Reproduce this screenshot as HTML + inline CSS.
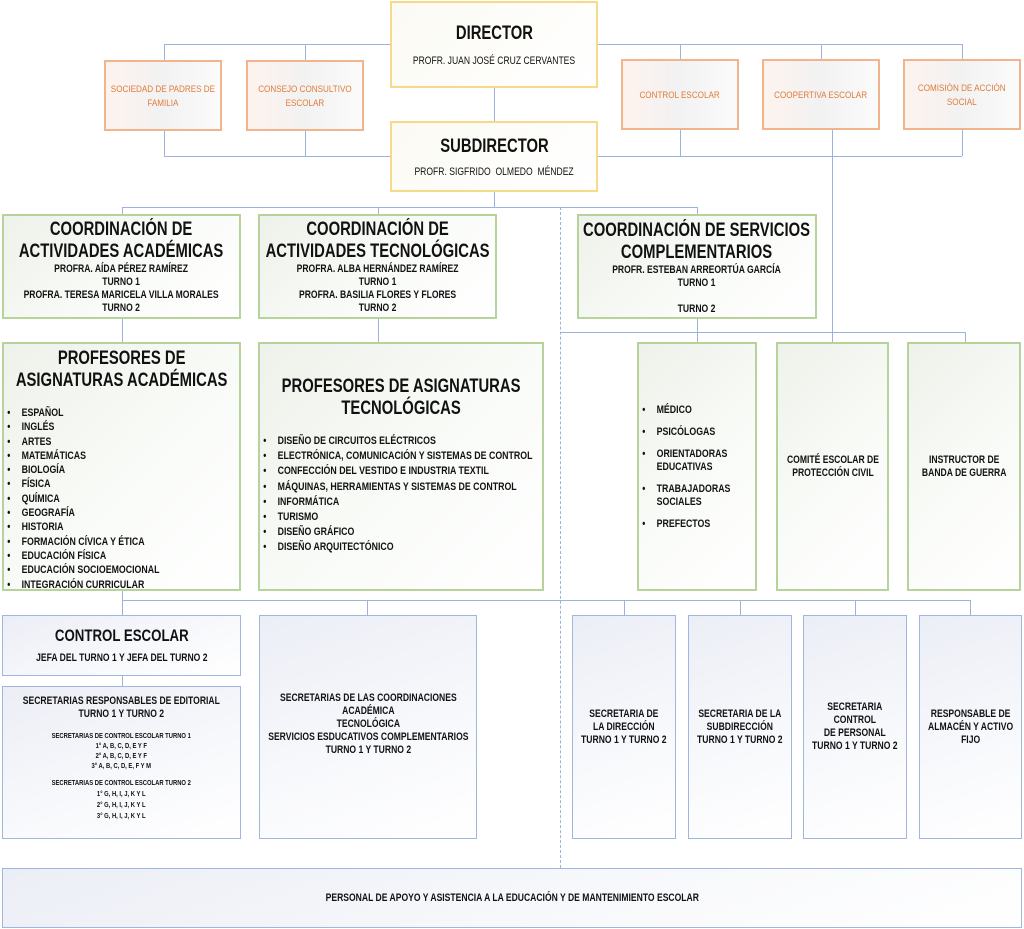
<!DOCTYPE html>
<html><head><meta charset="utf-8"><style>
*{margin:0;padding:0;box-sizing:border-box}
body{width:1024px;height:929px;background:#fff;position:relative;overflow:hidden;font-family:"Liberation Sans",sans-serif;font-weight:bold;color:#111}
.b{position:absolute;display:flex;flex-direction:column;justify-content:center;align-items:center;text-align:center}
.y{border:2px solid #f7d98a;background:linear-gradient(135deg,#fbfaf3,#fff)}
.o{border:2px solid #f2b48c;background:linear-gradient(90deg,#fdf3ee,#f2f2f2 50%,#fbfbfb);color:#e07b3a;font-weight:normal;font-size:9px;line-height:14px}
.g{border:2px solid #b5d39b;background:linear-gradient(135deg,#eef2ea,#fafcf9 60%,#fff)}
.u{border:1.5px solid #9fb6de;background:linear-gradient(160deg,#eceef6,#f8f9fc 60%,#fff)}
.h{position:absolute;border-top:1.5px solid #9bb3dd}
.v{position:absolute;border-left:1.5px solid #9bb3dd}
.n{white-space:nowrap;transform:scaleX(.78)}
.n9{white-space:nowrap;transform:scaleX(.9)}
.t1{font-size:19px;line-height:22px}
.s{font-size:11px;line-height:13px}
ul{list-style:none;text-align:left;white-space:nowrap;transform:scaleX(.8);transform-origin:left center}
li{position:relative;padding-left:22px}
li:before{content:"•";position:absolute;left:4px}
</style></head><body>
<div class="h" style="left:164px;top:44px;width:798px"></div>
<div class="v" style="left:164px;top:44px;height:16px"></div>
<div class="v" style="left:305px;top:44px;height:16px"></div>
<div class="v" style="left:680px;top:44px;height:16px"></div>
<div class="v" style="left:821px;top:44px;height:16px"></div>
<div class="v" style="left:962px;top:44px;height:16px"></div>
<div class="h" style="left:164px;top:156px;width:798px"></div>
<div class="v" style="left:164px;top:130px;height:26px"></div>
<div class="v" style="left:305px;top:130px;height:26px"></div>
<div class="v" style="left:680px;top:130px;height:26px"></div>
<div class="v" style="left:962px;top:130px;height:26px"></div>
<div class="v" style="left:832px;top:130px;height:202px"></div>
<div class="v" style="left:494px;top:88px;height:33px"></div>
<div class="v" style="left:494px;top:192px;height:15px"></div>
<div class="h" style="left:122px;top:207px;width:575px"></div>
<div class="v" style="left:122px;top:207px;height:7px"></div>
<div class="v" style="left:378px;top:207px;height:7px"></div>
<div class="v" style="left:697px;top:207px;height:7px"></div>
<div style="position:absolute;left:560px;top:207px;height:661px;border-left:1.5px dashed #9bb3dd"></div>
<div class="v" style="left:122px;top:318px;height:24px"></div>
<div class="v" style="left:378px;top:318px;height:24px"></div>
<div class="v" style="left:697px;top:318px;height:24px"></div>
<div class="h" style="left:561px;top:332px;width:404px"></div>
<div class="v" style="left:832px;top:332px;height:10px"></div>
<div class="v" style="left:965px;top:332px;height:10px"></div>
<div class="h" style="left:122px;top:600px;width:848px"></div>
<div class="v" style="left:122px;top:590px;height:25px"></div>
<div class="v" style="left:367px;top:600px;height:15px"></div>
<div class="v" style="left:624px;top:600px;height:15px"></div>
<div class="v" style="left:740px;top:600px;height:15px"></div>
<div class="v" style="left:855px;top:600px;height:15px"></div>
<div class="v" style="left:970px;top:600px;height:15px"></div>
<div class="v" style="left:122px;top:675px;height:11px"></div>

<div class="b y" style="left:390px;top:1px;width:208px;height:87px"><div class="n" style="font-size:19px">DIRECTOR</div><div class="n" style="font-size:11px;margin-top:10px;font-weight:normal">PROFR. JUAN JOSÉ CRUZ CERVANTES</div></div>
<div class="b y" style="left:390px;top:121px;width:208px;height:71px"><div class="n" style="font-size:19px">SUBDIRECTOR</div><div class="n" style="font-size:11px;margin-top:8px;font-weight:normal">PROFR. SIGFRIDO &nbsp;OLMEDO &nbsp;MÉNDEZ</div></div>
<div class="b o" style="left:104px;top:60px;width:118px;height:71px"><div class="n9">SOCIEDAD DE PADRES DE<br>FAMILIA</div></div>
<div class="b o" style="left:246px;top:60px;width:118px;height:71px"><div class="n9">CONSEJO CONSULTIVO<br>ESCOLAR</div></div>
<div class="b o" style="left:621px;top:59px;width:118px;height:71px"><div class="n9">CONTROL ESCOLAR</div></div>
<div class="b o" style="left:762px;top:59px;width:118px;height:71px"><div class="n9">COOPERTIVA ESCOLAR</div></div>
<div class="b o" style="left:903px;top:59px;width:118px;height:71px"><div class="n9">COMISIÓN DE ACCIÓN<br>SOCIAL</div></div>

<div class="b g" style="left:2px;top:214px;width:239px;height:105px"><div class="n"><div class="t1">COORDINACIÓN DE<br>ACTIVIDADES ACADÉMICAS</div><div class="s">PROFRA. AÍDA PÉREZ RAMÍREZ<br>TURNO 1<br>PROFRA. TERESA MARICELA VILLA MORALES<br>TURNO 2</div></div></div>
<div class="b g" style="left:258px;top:214px;width:239px;height:105px"><div class="n"><div class="t1">COORDINACIÓN DE<br>ACTIVIDADES TECNOLÓGICAS</div><div class="s">PROFRA. ALBA HERNÁNDEZ RAMÍREZ<br>TURNO 1<br>PROFRA. BASILIA FLORES Y FLORES<br>TURNO 2</div></div></div>
<div class="b g" style="left:577px;top:214px;width:240px;height:105px;justify-content:flex-start;padding-top:4px"><div class="n"><div class="t1">COORDINACIÓN DE SERVICIOS<br>COMPLEMENTARIOS</div><div class="s">PROFR. ESTEBAN ARREORTÚA GARCÍA<br>TURNO 1<br><br>TURNO 2</div></div></div>

<div class="b g" style="left:2px;top:342px;width:239px;height:249px;justify-content:flex-start;padding-top:4px;align-items:stretch"><div class="t1 n" style="text-align:center;align-self:center">PROFESORES DE<br>ASIGNATURAS ACADÉMICAS</div>
<ul class="s" style="margin-top:14px;line-height:14.3px"><li>ESPAÑOL</li><li>INGLÉS</li><li>ARTES</li><li>MATEMÁTICAS</li><li>BIOLOGÍA</li><li>FÍSICA</li><li>QUÍMICA</li><li>GEOGRAFÍA</li><li>HISTORIA</li><li>FORMACIÓN CÍVICA Y ÉTICA</li><li>EDUCACIÓN FÍSICA</li><li>EDUCACIÓN SOCIOEMOCIONAL</li><li>INTEGRACIÓN CURRICULAR</li></ul></div>
<div class="b g" style="left:258px;top:342px;width:286px;height:249px;justify-content:flex-start;padding-top:32px;align-items:stretch"><div class="t1 n" style="text-align:center;align-self:center">PROFESORES DE ASIGNATURAS<br>TECNOLÓGICAS</div>
<ul class="s" style="margin-top:14px;line-height:15.2px"><li>DISEÑO DE CIRCUITOS ELÉCTRICOS</li><li>ELECTRÓNICA, COMUNICACIÓN Y SISTEMAS DE CONTROL</li><li>CONFECCIÓN DEL VESTIDO E INDUSTRIA TEXTIL</li><li>MÁQUINAS, HERRAMIENTAS Y SISTEMAS DE CONTROL</li><li>INFORMÁTICA</li><li>TURISMO</li><li>DISEÑO GRÁFICO</li><li>DISEÑO ARQUITECTÓNICO</li></ul></div>
<div class="b g" style="left:637px;top:342px;width:120px;height:249px;align-items:stretch;justify-content:flex-start;padding-top:60px"><ul class="s"><li style="margin-bottom:9px">MÉDICO</li><li style="margin-bottom:9px">PSICÓLOGAS</li><li style="margin-bottom:9px">ORIENTADORAS<br>EDUCATIVAS</li><li style="margin-bottom:9px">TRABAJADORAS<br>SOCIALES</li><li>PREFECTOS</li></ul></div>
<div class="b g s" style="left:776px;top:342px;width:113px;height:249px"><div class="n">COMITÉ ESCOLAR DE<br>PROTECCIÓN CIVIL</div></div>
<div class="b g s" style="left:907px;top:342px;width:114px;height:249px"><div class="n">INSTRUCTOR DE<br>BANDA DE GUERRA</div></div>

<div class="b u" style="left:2px;top:615px;width:239px;height:61px"><div class="n" style="font-size:17px">CONTROL ESCOLAR</div><div class="s n" style="margin-top:6px">JEFA DEL TURNO 1 Y JEFA DEL TURNO 2</div></div>
<div class="b u" style="left:2px;top:686px;width:239px;height:153px;justify-content:flex-start;padding-top:8px"><div class="s n">SECRETARIAS RESPONSABLES DE EDITORIAL<br>TURNO 1 Y TURNO 2</div>
<div class="n" style="font-size:7.5px;line-height:10px;margin-top:10px">SECRETARIAS DE CONTROL ESCOLAR TURNO 1<br>1° A, B, C, D, E Y F<br>2° A, B, C, D, E Y F<br>3° A, B, C, D, E, F Y M</div>
<div class="n" style="font-size:7.5px;line-height:11px;margin-top:6px">SECRETARIAS DE CONTROL ESCOLAR TURNO 2<br>1° G, H, I, J, K Y L<br>2° G, H, I, J, K Y L<br>3° G, H, I, J, K Y L</div></div>
<div class="b u s" style="left:259px;top:615px;width:218px;height:224px;justify-content:flex-start;padding-top:76px"><div class="n">SECRETARIAS DE LAS COORDINACIONES<br>ACADÉMICA<br>TECNOLÓGICA<br>SERVICIOS ESDUCATIVOS COMPLEMENTARIOS<br>TURNO 1 Y TURNO 2</div></div>
<div class="b u s" style="left:572px;top:615px;width:104px;height:224px"><div class="n">SECRETARIA DE<br>LA DIRECCIÓN<br>TURNO 1 Y TURNO 2</div></div>
<div class="b u s" style="left:688px;top:615px;width:104px;height:224px"><div class="n">SECRETARIA DE LA<br>SUBDIRECCIÓN<br>TURNO 1 Y TURNO 2</div></div>
<div class="b u s" style="left:803px;top:615px;width:104px;height:224px"><div class="n">SECRETARIA<br>CONTROL<br>DE PERSONAL<br>TURNO 1 Y TURNO 2</div></div>
<div class="b u s" style="left:919px;top:615px;width:103px;height:224px"><div class="n">RESPONSABLE DE<br>ALMACÉN Y ACTIVO<br>FIJO</div></div>
<div class="b u s" style="left:2px;top:868px;width:1020px;height:60px"><div class="n">PERSONAL DE APOYO Y ASISTENCIA A LA EDUCACIÓN Y DE MANTENIMIENTO ESCOLAR</div></div>
</body></html>
